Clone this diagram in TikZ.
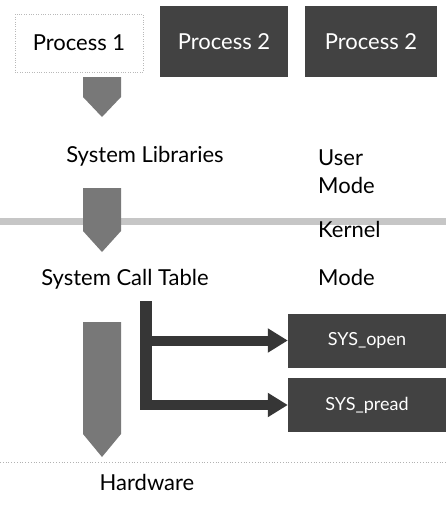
\documentclass[tikz,border=0pt]{standalone}
\usepackage{fontspec}
\setmainfont{Lato}
\usetikzlibrary{arrows.meta}
\definecolor{boxdark}{HTML}{424242}
\definecolor{arrowgray}{HTML}{787878}
\definecolor{bandgray}{HTML}{C6C6C6}
\definecolor{bardark}{HTML}{363636}
\begin{document}
\begin{tikzpicture}[x=1pt,y=-1pt,
  txt/.style={font=\fontsize{22}{26}\selectfont, inner sep=0pt},
  smalltxt/.style={font=\fontsize{18}{22}\selectfont, inner sep=0pt},
  procbox/.style={txt, fill=boxdark, text=white, minimum height=71pt},
  callbox/.style={smalltxt, fill=boxdark, text=white, minimum width=158pt, minimum height=54pt},
  downarrow/.style={fill=arrowgray},
  hshaft/.style={draw=bardark, line width=10pt, -{Triangle[width=23pt,length=20pt]}}]
\useasboundingbox (0,0) rectangle (446,531);

% user processes
\node[txt, draw=gray!55, dotted, minimum width=128pt, minimum height=58pt] (p1) at (79,43) {Process 1};
\node[procbox, minimum width=128pt] (p2) at (224,41.5) {Process 2};
\node[procbox, minimum width=132pt] (p3) at (371,41.5) {Process 2};

% first down arrow
\fill[downarrow] (83,77) -- (121,77) -- (121,97) -- (102,117) -- (83,97) -- cycle;

\node[txt, anchor=base] (lib) at (145,162) {System Libraries};
\node[txt, anchor=base west] (user) at (318,165) {User};
\node[txt, anchor=base west] (umode) at (318,193) {Mode};

% user/kernel boundary
\fill[bandgray] (0,218) rectangle (446,225);

% second down arrow
\fill[downarrow] (83,188) -- (121,188) -- (121,231) -- (102,252) -- (83,231) -- cycle;

\node[txt, anchor=base west] (kernel) at (318,237) {Kernel};
\node[txt, anchor=base west] (kmode) at (318,285) {Mode};
\node[txt, anchor=base] (sct) at (125,285) {System Call Table};

% third down arrow
\fill[downarrow] (83,322) -- (121,322) -- (121,434) -- (102,457) -- (83,434) -- cycle;

% system call handlers
\node[callbox] (open) at (367,340.5) {SYS\_open};
\node[callbox] (pread) at (367,405) {SYS\_pread};

% dispatch bar and branches
\fill[bardark] (140,301) rectangle (152,410);
\coordinate (tapA) at (141,340.5);
\coordinate (tapB) at (141,405);
\draw[hshaft] (tapA) -- (open.west);
\draw[hshaft] (tapB) -- (pread.west);

% hardware boundary
\draw[gray!60, dotted, line width=0.8pt] (0,462) -- (446,462);
\node[txt, anchor=base] (hw) at (147,490) {Hardware};
\end{tikzpicture}
\end{document}
